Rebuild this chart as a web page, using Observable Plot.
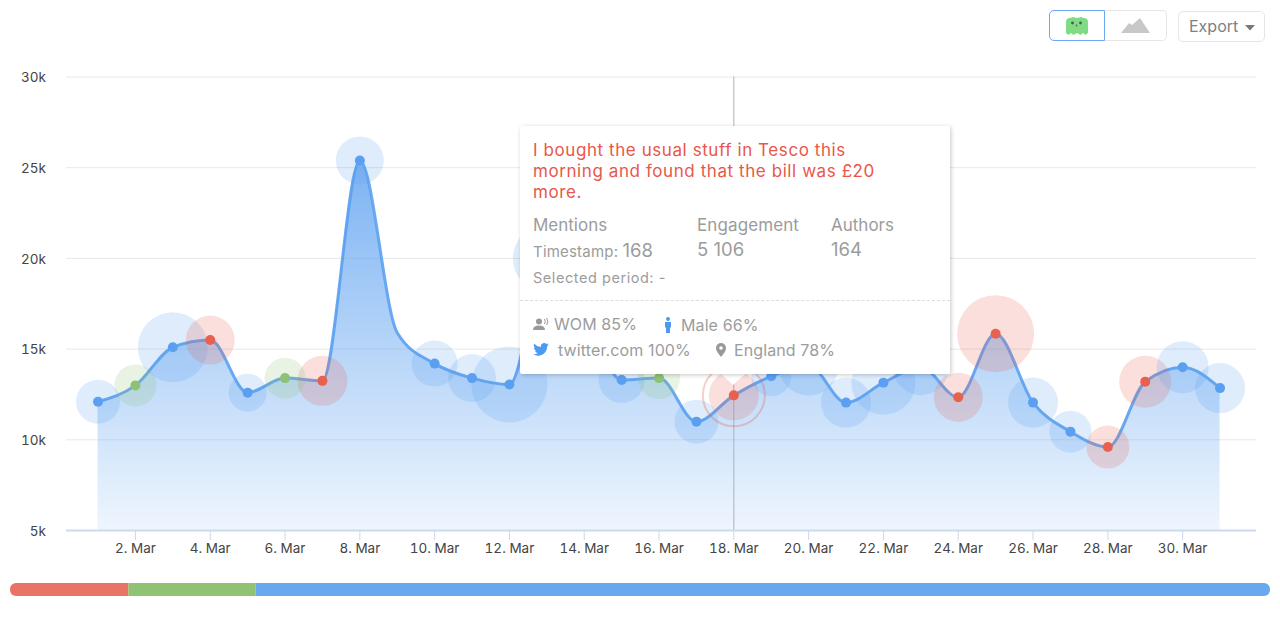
<!DOCTYPE html>
<html><head><meta charset="utf-8">
<script src="https://cdn.jsdelivr.net/npm/d3@7"></script>
<script src="https://cdn.jsdelivr.net/npm/@observablehq/plot@0.6"></script>
<style>
html,body{margin:0;padding:0;background:#fff;overflow:hidden}
body{width:1280px;height:624px;position:relative;font-family:Inter,"Noto Sans",sans-serif}
#chart{position:absolute;left:0;top:0}
#chart svg{display:block;font-family:Inter,sans-serif}
#share{position:absolute;left:10px;top:583px;width:1260px;height:13px;border-radius:6px;overflow:hidden}
#share svg{display:block}
.btn{position:absolute;box-sizing:border-box;background:#fff}
#tip{position:absolute;left:520px;top:126px;width:430px;height:248px;background:#fff;border-radius:2px;box-shadow:1px 1px 4px rgba(0,0,0,.22);color:#9c9c9c}
#tip span,#tip div.t{position:absolute;white-space:nowrap;line-height:1}
#tip svg{position:absolute}
#notch{position:absolute;left:721px;top:374px;width:0;height:0;border-left:12px solid transparent;border-right:12px solid transparent;border-top:11px solid #fff}
</style></head><body>
<div id="chart"></div>
<div id="share"></div>
<div class="btn" style="left:1105px;top:10px;width:62px;height:31px;border:1.5px solid #e6e6e6;border-left:0;border-radius:0 5px 5px 0">
<svg width="30" height="16" style="position:absolute;left:16px;top:7px" viewBox="0 0 30 16"><path d="M0 15 L8 5 L11 7 L19 0 L29 15Z" fill="#c8c8c8"/></svg></div>
<div class="btn" style="left:1049px;top:10px;width:56px;height:31px;border:1.5px solid #6ba9f5;border-radius:5px 0 0 5px">
<svg width="24" height="19" style="position:absolute;left:15px;top:5px" viewBox="0 0 24 19"><path d="M1 17 V6 Q1 2 5 2 L8 1 L12 2 L16 1 L19 2 Q23 2 23 6 V17 L20.5 19 L18 17 L15.5 19 L12 17 L8.5 19 L6 17 L3.5 19Z" fill="#7fdc84"/><circle cx="7.5" cy="7" r="1.4" fill="#555"/><circle cx="15.5" cy="7" r="1.4" fill="#555"/><circle cx="11.5" cy="9.500" r=".9" fill="#666"/></svg></div>
<div class="btn" style="left:1178px;top:11px;width:87px;height:31px;border:1.5px solid #e6e6e6;border-radius:5px;color:#808080;font-size:16px;line-height:29px;padding-left:10px">Export<svg width="10" height="6" style="position:absolute;left:66px;top:13px"><path d="M0 0H10L5 5.5Z" fill="#777"/></svg></div>
<div id="notch"></div>
<div id="tip">
 <div class="t" style="left:13px;top:14px;width:410px;color:#e8574a;font-size:17px;line-height:21px;white-space:normal;letter-spacing:.58px">I bought the usual stuff in Tesco this<br>morning and found that the bill was £20<br>more.</div>
 <span style="left:13px;top:91px;font-size:17px">Mentions</span>
 <span style="left:177px;top:91px;font-size:17px;letter-spacing:.1px">Engagement</span>
 <span style="left:311px;top:91px;font-size:17px">Authors</span>
 <span style="left:13px;top:115px;font-size:15px;letter-spacing:.2px">Timestamp: <span style="position:static;font-size:18.5px;letter-spacing:0">168</span></span>
 <span style="left:177px;top:114px;font-size:18.5px">5 106</span>
 <span style="left:311px;top:114px;font-size:18.5px">164</span>
 <span style="left:13px;top:145px;font-size:14.5px;letter-spacing:.55px">Selected period: -</span>
 <div style="position:absolute;left:0;right:0;top:174px;border-top:1px dashed #ddd"></div>
 <svg width="16" height="12" style="left:13px;top:192px" viewBox="0 0 16 12"><circle cx="6" cy="3.5" r="3" fill="#999"/><path d="M0 12 Q0 7.5 6 7.5 Q12 7.5 12 12Z" fill="#999"/><path d="M11.5 1 Q13 3.5 11.5 6 M13.7 0 Q15.8 3.5 13.7 7" fill="none" stroke="#999" stroke-width="1"/></svg>
 <span style="left:34px;top:190px;font-size:16px;letter-spacing:.1px">WOM 85%</span>
 <svg width="8" height="16" style="left:144px;top:191px" viewBox="0 0 8 16"><circle cx="4" cy="2" r="2" fill="#4d9bf0"/><path d="M1 5H7V10.5H6V16H2V10.5H1Z" fill="#4d9bf0"/></svg>
 <span style="left:161px;top:191px;font-size:16px;letter-spacing:.1px">Male 66%</span>
 <svg width="16" height="13" style="left:13px;top:217px" viewBox="0 0 24 20"><path d="M24 2.4a10 10 0 0 1-2.8.8 5 5 0 0 0 2.2-2.7 10 10 0 0 1-3.1 1.2A4.9 4.9 0 0 0 11.900 6.200 14 14 0 0 1 1.700 1a4.900 4.900 0 0 0 1.500 6.600 4.900 4.900 0 0 1-2.200-.6c0 2.400 1.700 4.400 3.900 4.900a4.900 4.900 0 0 1-2.200.1 4.900 4.900 0 0 0 4.600 3.400A9.900 9.900 0 0 1 0 17.400 14 14 0 0 0 7.500 19.600c9.100 0 14.300-7.700 14-14.600A10 10 0 0 0 24 2.400z" fill="#4d9bf0"/></svg>
 <span style="left:38px;top:216px;font-size:16px;letter-spacing:.12px">twitter.com 100%</span>
 <svg width="10" height="14" style="left:196px;top:217px" viewBox="0 0 10 14"><path d="M5 0a5 5 0 0 0-5 5c0 3.500 5 9 5 9s5-5.500 5-9a5 5 0 0 0-5-5z" fill="#999"/><circle cx="5" cy="5" r="1.800" fill="#fff"/></svg>
 <span style="left:214px;top:216px;font-size:16px;letter-spacing:.1px">England 78%</span>
</div>
<script>
const days = d3.range(1, 32);
const mentions = [12100,13000,15100,15500,12600,13400,13250,25400,15900,14200,13400,13050,20000,17000,13300,13400,11000,12450,13500,14100,12050,13150,14000,12350,15850,12050,10450,9600,13200,14000,12850];
const bubbleSize = [484,441,1225,600,361,420,625,576,0,529,576,1444,1156,0,529,441,484,625,400,900,625,1024,784,600,1482,625,441,462,676,676,625];
const sentiment = ["neu","pos","neu","neg","neu","pos","neg","neu","none","neu","neu","neu","neu","none","neu","pos","neu","neg","neu","neu","neu","neu","neu","neg","neg","neu","neu","neg","neg","neu","neu"];
const yTicks = [5000,10000,15000,20000,25000,30000];
const xTicks = d3.range(2, 31, 2);
const shareNames = ["neg","pos","neu"];
const shareValues = [9.4,10.1,80.5];
const selectedDay = [18];

const palette = {domain:["neg","pos","neu"], range:["#e8604f","#8cc176","#5ba0f0"]};
const rows = days.map((d,i)=>({day:d,value:mentions[i],size:bubbleSize[i],s:sentiment[i]}));
const marked = rows.filter(d=>d.size>0);

const gradient = () => {
  const defs = d3.create("svg:defs");
  const g = defs.append("linearGradient").attr("id","areaFill").attr("x1",0).attr("x2",0).attr("y1",0).attr("y2",1);
  g.append("stop").attr("offset","0%").attr("stop-color","#5ba0f0").attr("stop-opacity",.8);
  g.append("stop").attr("offset","100%").attr("stop-color","#5ba0f0").attr("stop-opacity",.1);
  return defs.node();
};

const chart = Plot.plot({
  width:1280, height:624, marginLeft:66, marginRight:24, marginTop:76.5, marginBottom:94,
  style:{background:"transparent",fontFamily:"Inter,sans-serif",fontSize:"13.5px",overflow:"visible"},
  x:{domain:[0.157,31.975]},
  y:{domain:[5000,30000]},
  r:{domain:[0,1600],range:[0,40]},
  color:palette,
  marks:[
    gradient,
    Plot.ruleY(yTicks.slice(1),{stroke:"#e8e8e8",strokeWidth:1}),
    Plot.areaY(rows,{x:"day",y1:()=>5000,y2:"value",curve:"monotone-x",fill:"url(#areaFill)"}),
    Plot.ruleX(selectedDay,{stroke:"#aab2bf",strokeWidth:1}),
    Plot.ruleY([5000],{stroke:"#ccd9ee",strokeWidth:2}),
    Plot.axisX(xTicks,{tickSize:10,tickPadding:3,stroke:"#ccd9ee",fill:"#444",label:null,tickFormat:d=>d+". Mar",fontSize:13.5}),
    Plot.axisY(yTicks,{tickSize:0,tickPadding:20.5,fill:"#444",label:null,tickFormat:d=>d/1000+"k",fontSize:13.5,dy:1}),
    Plot.line(rows,{x:"day",y:"value",curve:"monotone-x",stroke:"#5ba0f0",strokeWidth:3,strokeOpacity:.9}),
    Plot.dot(marked,{x:"day",y:"value",r:"size",fill:"s",fillOpacity:.2,stroke:"none"}),
    Plot.dot(rows.filter(d=>selectedDay.includes(d.day)),{x:"day",y:"value",r:31,fill:"none",stroke:"#e8604f",strokeOpacity:.3,strokeWidth:2}),
    Plot.dot(marked,{x:"day",y:"value",r:5,fill:"s",stroke:"none"})
  ]
});
document.getElementById("chart").append(chart);

const share = Plot.plot({
  width:1260,height:13,margin:0,
  x:{domain:[0,100],axis:null},
  color:{domain:shareNames,range:["#e97465","#90c274","#68a8ee"]},
  marks:[Plot.barX(shareNames.map((n,i)=>({n,v:shareValues[i]})),{x:"v",fill:"n",order:null,insetTop:0,insetBottom:0})]
});
document.getElementById("share").append(share);
</script>
</body></html>
